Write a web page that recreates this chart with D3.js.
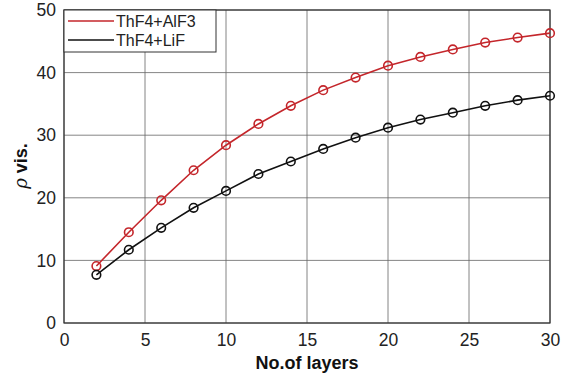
<!DOCTYPE html>
<html>
<head>
<meta charset="utf-8">
<script src="https://cdn.jsdelivr.net/npm/d3@7"></script>
<style>
  body { margin: 0; background: #fff; }
  text { font-family: "Liberation Sans", Arial, sans-serif; }
</style>
</head>
<body>
<svg id="chart"></svg>
<script>
// layers on the x axis
const layers = [2, 4, 6, 8, 10, 12, 14, 16, 18, 20, 22, 24, 26, 28, 30];
// rho vis. for each mixture
const alf3 = [9.1, 14.5, 19.6, 24.4, 28.4, 31.8, 34.7, 37.2, 39.2, 41.1, 42.5, 43.7, 44.8, 45.6, 46.3];
const lif = [7.7, 11.7, 15.2, 18.4, 21.1, 23.8, 25.8, 27.8, 29.6, 31.2, 32.5, 33.6, 34.7, 35.6, 36.3];
const xTicks = [0, 5, 10, 15, 20, 25, 30];
const yTicks = [0, 10, 20, 30, 40, 50];
const seriesNames = ["ThF4+AlF3", "ThF4+LiF"];

const W = 563, H = 379;
const svg = d3.select("#chart").attr("width", W).attr("height", H);

const x = d3.scaleLinear().domain([0, 30]).range([64, 550]);
const y = d3.scaleLinear().domain([0, 50]).range([323, 10]);

// grid
svg.append("g").selectAll("line").data(xTicks).enter().append("line")
    .attr("x1", d => x(d)).attr("x2", d => x(d))
    .attr("y1", y(50)).attr("y2", y(0))
    .attr("stroke", "#666").attr("stroke-width", 0.8);
svg.append("g").selectAll("line").data(yTicks).enter().append("line")
    .attr("x1", x(0)).attr("x2", x(30))
    .attr("y1", d => y(d)).attr("y2", d => y(d))
    .attr("stroke", "#666").attr("stroke-width", 0.8);

// axes
const xAxis = svg.append("g").attr("transform", `translate(0,${y(0)})`)
    .call(d3.axisBottom(x).tickValues(xTicks).tickSize(0).tickPadding(11));
const yAxis = svg.append("g").attr("transform", `translate(${x(0)},0)`)
    .call(d3.axisLeft(y).tickValues(yTicks).tickSize(0).tickPadding(8));
[xAxis, yAxis].forEach(a => {
  a.select(".domain").remove();
  a.selectAll("text").attr("font-size", 17.5).attr("fill", "#222")
    .attr("font-family", "Liberation Sans, Arial, sans-serif");
});

// box
svg.append("rect")
    .attr("x", x(0)).attr("y", y(50))
    .attr("width", x(30) - x(0)).attr("height", y(0) - y(50))
    .attr("fill", "none").attr("stroke", "#333").attr("stroke-width", 1.2);

const series = [
  { name: seriesNames[0], values: alf3, color: "#c4262b" },
  { name: seriesNames[1], values: lif, color: "#111" }
];

const line = d3.line().x((d, i) => x(layers[i])).y(d => y(d));

series.forEach(s => {
  svg.append("path").datum(s.values)
      .attr("d", line).attr("fill", "none")
      .attr("stroke", s.color).attr("stroke-width", 1.6);
  svg.append("g").selectAll("circle").data(s.values).enter().append("circle")
      .attr("cx", (d, i) => x(layers[i])).attr("cy", d => y(d))
      .attr("r", 4.3).attr("fill", "none")
      .attr("stroke", s.color).attr("stroke-width", 1.6);
});

// legend
const leg = svg.append("g");
leg.append("rect").attr("x", x(0)).attr("y", y(50))
    .attr("width", 152).attr("height", 42)
    .attr("fill", "#fff").attr("stroke", "#333").attr("stroke-width", 1);
series.forEach((s, i) => {
  const ly = y(50) + 11 + i * 19;
  leg.append("line").attr("x1", x(0) + 4).attr("x2", x(0) + 50)
      .attr("y1", ly).attr("y2", ly)
      .attr("stroke", s.color).attr("stroke-width", 1.4);
  leg.append("text").attr("x", x(0) + 52).attr("y", ly + 6)
      .attr("font-size", 16).attr("fill", "#222").text(s.name);
});

// axis titles
svg.append("text").attr("x", (x(0) + x(30)) / 2).attr("y", 369)
    .attr("text-anchor", "middle").attr("font-size", 18).attr("font-weight", "bold")
    .attr("fill", "#111").text("No.of layers");
svg.append("text").attr("transform", "translate(27,166) rotate(-90)")
    .attr("text-anchor", "middle").attr("font-size", 18).attr("font-weight", "bold")
    .attr("fill", "#111")
    .html('<tspan font-style="italic" font-weight="normal" font-family="DejaVu Serif, serif">ρ</tspan> vis.');
</script>
</body>
</html>
